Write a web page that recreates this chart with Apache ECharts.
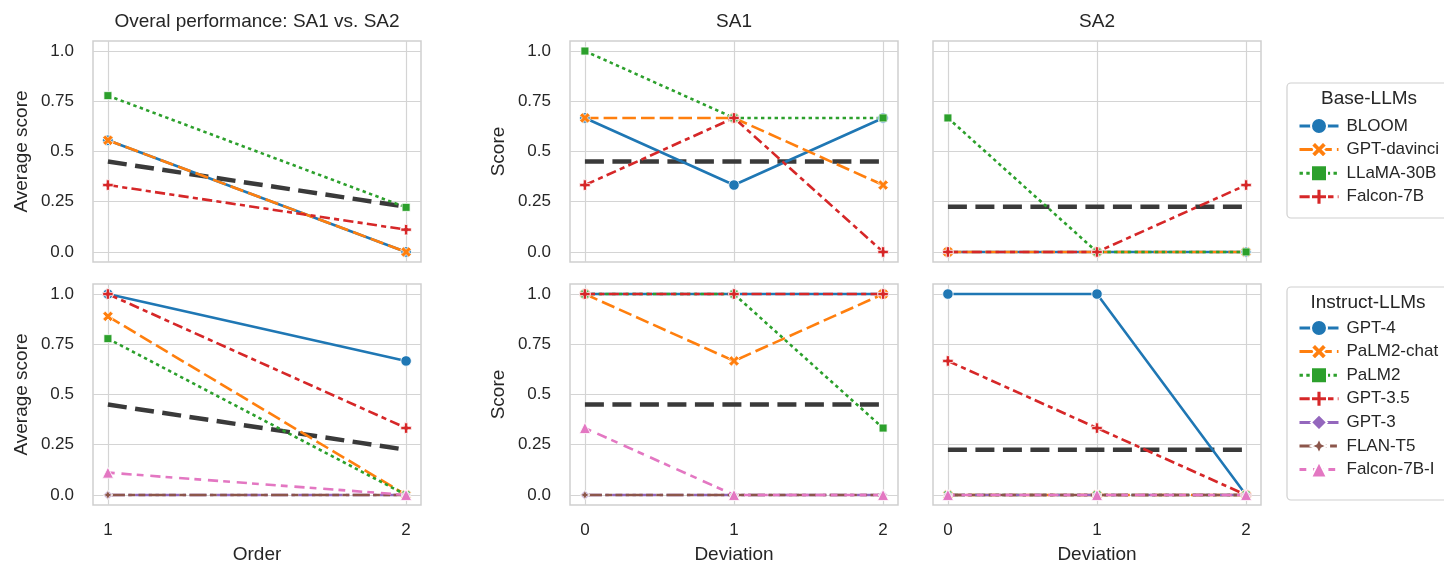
<!DOCTYPE html>
<html><head><meta charset="utf-8">
<script src="https://cdn.jsdelivr.net/npm/echarts@6/dist/echarts.min.js"></script>
<style>html,body{margin:0;padding:0;background:#fff}#c{width:1444px;height:566px}</style>
</head><body><div id="c"></div>
<script>
// ---------- data ----------
const orderX = [1, 2];
const deviationX = [0, 1, 2];
const yTickValues = [0, 0.25, 0.5, 0.75, 1];
const yTickLabels = ['0.0', '0.25', '0.5', '0.75', '1.0'];

const baseModels = ['BLOOM', 'GPT-davinci', 'LLaMA-30B', 'Falcon-7B'];
const instructModels = ['GPT-4', 'PaLM2-chat', 'PaLM2', 'GPT-3.5', 'GPT-3', 'FLAN-T5', 'Falcon-7B-I'];

// one row per model (same order as the model lists)
const baseOverall = [[0.556, 0], [0.556, 0], [0.778, 0.222], [0.333, 0.111]];
const baseSA1 = [[0.667, 0.333, 0.667], [0.667, 0.667, 0.333], [1, 0.667, 0.667], [0.333, 0.667, 0]];
const baseSA2 = [[0, 0, 0], [0, 0, 0], [0.667, 0, 0], [0, 0, 0.333]];
const instructOverall = [[1, 0.667], [0.889, 0], [0.778, 0], [1, 0.333], [0, 0], [0, 0], [0.111, 0]];
const instructSA1 = [[1, 1, 1], [1, 0.667, 1], [1, 1, 0.333], [1, 1, 1], [0, 0, 0], [0, 0, 0], [0.333, 0, 0]];
const instructSA2 = [[1, 1, 0], [0, 0, 0], [0, 0, 0], [0.667, 0.333, 0], [0, 0, 0], [0, 0, 0], [0, 0, 0]];
const referenceOverall = [0.45, 0.225];
const referenceSA1 = [0.45, 0.45, 0.45];
const referenceSA2 = [0.225, 0.225, 0.225];

const panelTitles = ['Overal performance: SA1 vs. SA2', 'SA1', 'SA2'];

// ---------- styles ----------
const COLORS = ['#1f77b4', '#ff7f0e', '#2ca02c', '#d62728', '#9467bd', '#8c564b', '#e377c2'];
const SYM_X = 'path://M1,3 L3,1 L5,3 L7,1 L9,3 L7,5 L9,7 L7,9 L5,7 L3,9 L1,7 L3,5 Z';
const SYM_P = 'path://M3.4,0 L6.6,0 L6.6,3.4 L10,3.4 L10,6.6 L6.6,6.6 L6.6,10 L3.4,10 L3.4,6.6 L0,6.6 L0,3.4 L3.4,3.4 Z';
const SYM_STAR = 'path://M5,0 L6.6,3.4 L10,5 L6.6,6.6 L5,10 L3.4,6.6 L0,5 L3.4,3.4 Z';
const SYMBOLS = ['circle', SYM_X, 'rect', SYM_P, 'diamond', SYM_STAR, 'triangle'];
const SYMSIZE = [10.5, 10.5, 8, 10.5, 9.5, 9.5, 11];
const K = 3.4;
const DASHES = ['solid', [4 * K, 1.5 * K], [1 * K, 1 * K], [3 * K, 1.25 * K, 1.5 * K, 1.25 * K],
  [5 * K, 1 * K, 1 * K, 1 * K], [5 * K, 1 * K, 2 * K, 1 * K, 2 * K, 1 * K], [2 * K, 2 * K, 3 * K, 1.5 * K]];
const TXT = '#262626';
const FONT = 'Liberation Sans, Arial, sans-serif';

const GRID_POS = [[93, 41], [570, 41], [933, 41], [93, 284], [570, 284], [933, 284]];
const GW = 328, GH = 221;

const grids = GRID_POS.map(p => ({
  left: p[0], top: p[1], width: GW, height: GH, show: true,
  borderColor: '#cfcfcf', borderWidth: 1.5, backgroundColor: 'transparent'
}));

const xAxes = [], yAxes = [];
for (let i = 0; i < 6; i++) {
  const col = i % 3, bottom = i >= 3;
  const ticks = col === 0 ? orderX : deviationX;
  const pad = col === 0 ? 0.05 : 0.1;
  xAxes.push({
    gridIndex: i, type: 'value', min: ticks[0] - pad, max: ticks[ticks.length - 1] + pad,
    axisLine: { show: false },
    axisTick: { show: false, customValues: ticks },
    axisLabel: { show: bottom, customValues: ticks, fontSize: 17, color: TXT, fontFamily: FONT, margin: 17 },
    splitLine: { show: true, lineStyle: { color: '#d4d4d4', width: 1.2 } },
    name: bottom ? (col === 0 ? 'Order' : 'Deviation') : '',
    nameLocation: 'middle', nameGap: 40,
    nameTextStyle: { fontSize: 19, color: TXT, fontFamily: FONT }
  });
  yAxes.push({
    gridIndex: i, type: 'value', min: -0.05, max: 1.05,
    axisLine: { show: false },
    axisTick: { show: false, customValues: yTickValues },
    axisLabel: {
      show: col !== 2, customValues: yTickValues, fontSize: 17, color: TXT, fontFamily: FONT, margin: 19,
      formatter: v => yTickLabels[yTickValues.indexOf(v)] ?? String(v)
    },
    splitLine: { show: true, lineStyle: { color: '#d4d4d4', width: 1.2 } },
    name: col === 0 ? 'Average score' : (col === 1 ? 'Score' : ''),
    nameLocation: 'middle', nameGap: 62,
    nameTextStyle: { fontSize: 19, color: TXT, fontFamily: FONT }
  });
}

const series = [];
function refLine(idx, xs, ys) {
  series.push({
    type: 'line', name: 'reference', xAxisIndex: idx, yAxisIndex: idx,
    data: xs.map((x, j) => [x, ys[j]]), symbol: 'none', silent: true,
    lineStyle: { color: '#3a3a3a', width: 4.5, type: [19, 8.5] }, z: 1
  });
}
function modelLines(idx, names, rows, xs) {
  names.forEach((n, m) => {
    series.push({
      type: 'line', name: n, xAxisIndex: idx, yAxisIndex: idx,
      data: xs.map((x, j) => [x, rows[m][j]]),
      symbol: SYMBOLS[m], symbolSize: SYMSIZE[m], showSymbol: true,
      itemStyle: { color: COLORS[m], borderColor: '#ffffff', borderWidth: 0.8 },
      lineStyle: { color: COLORS[m], width: 2.6, type: DASHES[m] },
      emphasis: { disabled: true }, z: 2
    });
  });
}
refLine(0, orderX, referenceOverall);
refLine(1, deviationX, referenceSA1);
refLine(2, deviationX, referenceSA2);
refLine(3, orderX, referenceOverall);
refLine(4, deviationX, referenceSA1);
refLine(5, deviationX, referenceSA2);
modelLines(0, baseModels, baseOverall, orderX);
modelLines(1, baseModels, baseSA1, deviationX);
modelLines(2, baseModels, baseSA2, deviationX);
modelLines(3, instructModels, instructOverall, orderX);
modelLines(4, instructModels, instructSA1, deviationX);
modelLines(5, instructModels, instructSA2, deviationX);

const legendCommon = {
  orient: 'vertical', left: 1293, itemWidth: 39, itemHeight: 20, itemGap: 3.6,
  textStyle: { fontSize: 17, color: TXT, fontFamily: FONT, lineHeight: 20, padding: [0, 0, 0, 3] },
  lineStyle: { width: 3 }, selectedMode: false, inactiveColor: '#ccc'
};

const titleCenters = [257, 734, 1097];
const graphics = [];
panelTitles.forEach((t, i) => graphics.push({
  type: 'text', x: titleCenters[i], y: 22, silent: true,
  style: { text: t, fontSize: 19, fill: TXT, fontFamily: FONT, textAlign: 'center', textVerticalAlign: 'middle' }
}));
graphics.push({ type: 'rect', shape: { x: 1287, y: 83, width: 175, height: 135, r: 4 }, style: { fill: '#fff', stroke: '#d0d0d0', lineWidth: 1.2 }, z: -1 });
graphics.push({ type: 'rect', shape: { x: 1287, y: 287, width: 175, height: 213, r: 4 }, style: { fill: '#fff', stroke: '#d0d0d0', lineWidth: 1.2 }, z: -1 });
graphics.push({ type: 'text', x: 1369, y: 99, silent: true, style: { text: 'Base-LLMs', fontSize: 19, fill: TXT, fontFamily: FONT, textAlign: 'center', textVerticalAlign: 'middle' } });
graphics.push({ type: 'text', x: 1368, y: 303, silent: true, style: { text: 'Instruct-LLMs', fontSize: 19, fill: TXT, fontFamily: FONT, textAlign: 'center', textVerticalAlign: 'middle' } });

const chart = echarts.init(document.getElementById('c'), null, { renderer: 'canvas' });
chart.setOption({
  backgroundColor: '#ffffff',
  animation: false,
  textStyle: { fontFamily: FONT },
  grid: grids,
  xAxis: xAxes,
  yAxis: yAxes,
  legend: [
    Object.assign({}, legendCommon, { top: 111, data: baseModels }),
    Object.assign({}, legendCommon, { top: 313, data: instructModels })
  ],
  graphic: graphics,
  series: series
});
</script></body></html>
